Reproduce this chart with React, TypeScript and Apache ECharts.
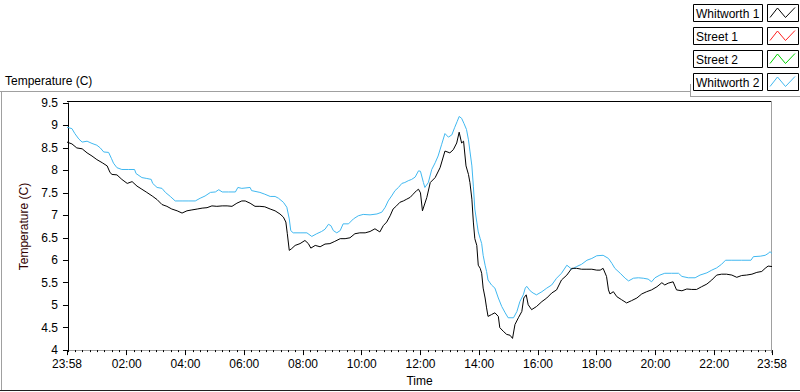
import React, { useEffect, useRef } from "react";
import * as echarts from "echarts";

// minutes since midnight (-2 = 23:58 of previous day)
const w1Minutes = [-2, 8, 18, 29, 39, 49, 59, 70, 80, 86, 90, 100, 110, 121, 131, 141, 151, 161, 172, 182, 192, 202, 212, 223, 233, 243, 253, 264, 274, 284, 294, 304, 315, 325, 335, 345, 355, 362, 372, 382, 392, 402, 413, 423, 433, 440, 445, 448, 452, 457, 464, 474, 484, 491, 496, 505, 515, 525, 535, 545, 556, 566, 576, 586, 596, 607, 617, 627, 637, 644, 651, 658, 664, 671, 678, 685, 692, 699, 705, 712, 716, 720, 724, 733, 740, 750, 760, 770, 780, 787, 794, 799, 804, 808, 813, 818, 821, 825, 828, 831, 835, 838, 842, 845, 848, 852, 855, 858, 865, 872, 879, 882, 889, 896, 903, 908, 913, 920, 927, 931, 936, 940, 947, 957, 968, 978, 988, 998, 1008, 1019, 1029, 1039, 1049, 1060, 1070, 1080, 1087, 1093, 1100, 1104, 1107, 1114, 1121, 1131, 1141, 1151, 1162, 1172, 1182, 1192, 1203, 1213, 1219, 1226, 1236, 1243, 1254, 1264, 1274, 1284, 1294, 1305, 1315, 1325, 1335, 1345, 1356, 1366, 1376, 1386, 1397, 1407, 1417, 1424, 1430, 1438];
const w1Values = [8.63, 8.59, 8.5, 8.48, 8.39, 8.32, 8.24, 8.17, 8.1, 7.95, 7.91, 7.9, 7.8, 7.71, 7.75, 7.65, 7.58, 7.51, 7.43, 7.35, 7.24, 7.2, 7.14, 7.1, 7.05, 7.1, 7.12, 7.14, 7.16, 7.17, 7.21, 7.2, 7.21, 7.21, 7.2, 7.27, 7.32, 7.32, 7.27, 7.2, 7.2, 7.19, 7.14, 7.1, 7.03, 6.96, 6.85, 6.59, 6.22, 6.26, 6.33, 6.37, 6.44, 6.37, 6.27, 6.33, 6.3, 6.36, 6.37, 6.42, 6.48, 6.48, 6.5, 6.59, 6.61, 6.61, 6.64, 6.7, 6.63, 6.77, 6.85, 6.99, 7.14, 7.21, 7.29, 7.32, 7.36, 7.4, 7.47, 7.55, 7.58, 7.5, 7.1, 7.4, 7.73, 7.84, 8.06, 8.43, 8.39, 8.46, 8.61, 8.85, 8.61, 8.65, 8.1, 7.91, 7.73, 7.36, 6.85, 6.48, 6.33, 5.89, 5.82, 5.71, 5.38, 5.16, 4.94, 4.75, 4.79, 4.83, 4.75, 4.5, 4.42, 4.35, 4.33, 4.26, 4.57, 4.72, 4.86, 5.16, 5.23, 5.01, 4.9, 4.97, 5.08, 5.16, 5.27, 5.34, 5.56, 5.67, 5.82, 5.82, 5.8, 5.8, 5.8, 5.78, 5.78, 5.82, 5.64, 5.34, 5.25, 5.3, 5.19, 5.12, 5.05, 5.1, 5.16, 5.25, 5.3, 5.34, 5.41, 5.5, 5.45, 5.49, 5.52, 5.34, 5.32, 5.36, 5.35, 5.35, 5.41, 5.47, 5.56, 5.67, 5.69, 5.69, 5.67, 5.62, 5.66, 5.67, 5.69, 5.73, 5.75, 5.82, 5.87, 5.86];

const w2Minutes = [-2, 8, 14, 22, 29, 39, 49, 59, 66, 73, 83, 89, 93, 100, 110, 124, 136, 139, 151, 161, 170, 173, 182, 192, 199, 209, 219, 233, 247, 260, 270, 280, 291, 301, 308, 315, 328, 342, 347, 355, 372, 375, 392, 402, 413, 423, 430, 440, 447, 452, 455, 460, 474, 488, 498, 508, 518, 525, 532, 537, 542, 549, 556, 562, 573, 583, 593, 603, 617, 631, 641, 648, 654, 661, 668, 675, 682, 688, 695, 702, 709, 716, 720, 726, 729, 736, 743, 750, 756, 763, 770, 777, 784, 790, 795, 799, 804, 809, 814, 818, 821, 825, 828, 831, 835, 838, 842, 845, 848, 852, 855, 858, 865, 872, 879, 886, 893, 899, 910, 917, 923, 930, 934, 937, 944, 950, 957, 968, 978, 988, 998, 1008, 1019, 1029, 1039, 1049, 1060, 1070, 1080, 1093, 1104, 1111, 1117, 1128, 1138, 1145, 1155, 1165, 1175, 1185, 1192, 1199, 1209, 1219, 1233, 1247, 1254, 1267, 1281, 1291, 1305, 1315, 1325, 1335, 1343, 1356, 1376, 1395, 1400, 1414, 1424, 1430, 1434, 1438];
const w2Values = [8.96, 8.93, 8.82, 8.7, 8.63, 8.65, 8.6, 8.56, 8.5, 8.41, 8.4, 8.26, 8.16, 8.06, 8.02, 8.02, 8.02, 7.93, 7.84, 7.82, 7.8, 7.71, 7.62, 7.6, 7.51, 7.42, 7.32, 7.32, 7.32, 7.32, 7.38, 7.43, 7.51, 7.52, 7.57, 7.52, 7.52, 7.52, 7.62, 7.6, 7.62, 7.55, 7.51, 7.47, 7.42, 7.42, 7.38, 7.29, 7.18, 6.92, 6.66, 6.61, 6.61, 6.61, 6.53, 6.59, 6.64, 6.69, 6.8, 6.77, 6.66, 6.61, 6.66, 6.81, 6.81, 6.92, 6.99, 7.02, 7.01, 7.03, 7.07, 7.18, 7.32, 7.43, 7.55, 7.62, 7.71, 7.73, 7.77, 7.8, 7.85, 7.99, 7.98, 7.73, 7.62, 7.73, 8.02, 8.17, 8.32, 8.57, 8.82, 8.74, 8.79, 8.96, 9.09, 9.2, 9.16, 9.04, 8.91, 8.68, 8.43, 8.1, 7.65, 7.14, 6.85, 6.63, 6.48, 6.37, 6.11, 5.89, 5.75, 5.56, 5.45, 5.38, 5.16, 4.97, 4.83, 4.72, 4.72, 4.86, 5.08, 5.23, 5.38, 5.42, 5.32, 5.27, 5.23, 5.3, 5.38, 5.45, 5.6, 5.71, 5.89, 5.8, 5.86, 5.91, 6.0, 6.04, 6.1, 6.11, 6.04, 5.93, 5.82, 5.71, 5.6, 5.54, 5.6, 5.61, 5.6, 5.58, 5.52, 5.61, 5.67, 5.71, 5.71, 5.71, 5.64, 5.61, 5.61, 5.67, 5.72, 5.78, 5.83, 5.91, 6.0, 6.0, 6.0, 6.0, 6.08, 6.09, 6.11, 6.15, 6.19, 6.15];

const street1Minutes: number[] = [];
const street1Values: number[] = [];
const street2Minutes: number[] = [];
const street2Values: number[] = [];

const seriesNames = ["Whitworth 1", "Street 1", "Street 2", "Whitworth 2"];
const seriesColors = ["#000000", "#ff2020", "#00d000", "#40b8f0"];

const xLabelMinutes = [-2, 120, 240, 360, 480, 600, 720, 840, 960, 1080, 1200, 1320, 1438];
const minorTickStep = 15;
const xMin = -2;
const xMax = 1438;
const yMin = 4;
const yMax = 9.5;
const yStep = 0.5;

const FONT = "Liberation Sans";

function pairs(xs: number[], ys: number[]) {
  return xs.map((x, i) => [x, ys[i]]);
}

function fmtTime(m: number) {
  let v = Math.round(m);
  if (v < 0) v += 1440;
  v = v % 1440;
  const h = Math.floor(v / 60);
  const mm = v % 60;
  return String(h).padStart(2, "0") + ":" + String(mm).padStart(2, "0");
}

export default function App() {
  const ref = useRef<HTMLDivElement>(null);
  useEffect(() => {
    if (!ref.current) return;
    const chart = echarts.init(ref.current, null, { renderer: "svg" });
    const minorTicks: number[] = [];
    for (let m = 0; m < xMax; m += minorTickStep) minorTicks.push(m);

    const legendGraphics: any[] = [];
    seriesNames.forEach((name, i) => {
      const y0 = 4.5 + 23 * i;
      legendGraphics.push({
        type: "rect",
        shape: { x: 693.5, y: y0, width: 69, height: 17 },
        style: { fill: "#fff", stroke: "#000", lineWidth: 1 },
        silent: true,
      });
      legendGraphics.push({
        type: "text",
        x: 696,
        y: y0 + 9,
        style: { text: name, fill: "#000", font: `12px "${FONT}"`, verticalAlign: "middle", align: "left" },
        silent: true,
      });
      legendGraphics.push({
        type: "rect",
        shape: { x: 767.5, y: y0, width: 31, height: 17 },
        style: { fill: "#fff", stroke: "#000", lineWidth: 1 },
        silent: true,
      });
      legendGraphics.push({
        type: "polyline",
        shape: { points: [[770, y0 + 13], [777.5, y0 + 3.5], [785.5, y0 + 13], [795, y0 + 3]] },
        style: { stroke: seriesColors[i], lineWidth: 1, fill: "none" },
        silent: true,
      });
    });

    const line = (x1: number, y1: number, x2: number, y2: number, color: string) => ({
      type: "line",
      shape: { x1, y1, x2, y2 },
      style: { stroke: color, lineWidth: 1 },
      silent: true,
    });

    chart.setOption({
      animation: false,
      backgroundColor: "#ffffff",
      textStyle: { fontFamily: FONT },
      grid: { left: 67, top: 103, width: 705, height: 249.5, containLabel: false },
      xAxis: [
        {
          type: "value",
          min: xMin,
          max: xMax,
          position: "bottom",
          name: "Time",
          nameLocation: "middle",
          nameGap: 23,
          nameTextStyle: { color: "#000", fontSize: 12, fontFamily: FONT },
          axisLine: { show: true, lineStyle: { color: "#a0a0a0", width: 1 } },
          axisTick: { show: true, customValues: xLabelMinutes, length: 5, lineStyle: { color: "#000", width: 1 } },
          axisLabel: {
            show: true,
            customValues: xLabelMinutes,
            formatter: (v: number) => fmtTime(v),
            margin: 8,
            color: "#000",
            fontSize: 12,
            fontFamily: FONT,
            hideOverlap: false,
          },
          splitLine: { show: false },
        },
        {
          type: "value",
          min: xMin,
          max: xMax,
          position: "bottom",
          axisLine: { show: false },
          axisTick: { show: true, customValues: minorTicks, length: 2, lineStyle: { color: "#000", width: 1 } },
          axisLabel: { show: false },
          splitLine: { show: false },
        },
      ],
      yAxis: {
        type: "value",
        min: yMin,
        max: yMax,
        interval: yStep,
        name: "Temperature (C)",
        nameLocation: "middle",
        nameRotate: 90,
        nameGap: 28,
        nameTextStyle: { color: "#300000", fontSize: 12, fontFamily: FONT },
        axisLine: { show: true, lineStyle: { color: "#000", width: 1 } },
        axisTick: { show: true, length: 5, lineStyle: { color: "#000", width: 1 } },
        axisLabel: { margin: 9, color: "#000", fontSize: 12, fontFamily: FONT },
        splitLine: { show: false },
      },
      series: [
        {
          name: seriesNames[0],
          type: "line",
          data: pairs(w1Minutes, w1Values),
          showSymbol: false,
          lineStyle: { color: seriesColors[0], width: 1 },
          itemStyle: { color: seriesColors[0] },
          z: 3,
        },
        {
          name: seriesNames[1],
          type: "line",
          data: pairs(street1Minutes, street1Values),
          showSymbol: false,
          lineStyle: { color: seriesColors[1], width: 1 },
        },
        {
          name: seriesNames[2],
          type: "line",
          data: pairs(street2Minutes, street2Values),
          showSymbol: false,
          lineStyle: { color: seriesColors[2], width: 1 },
        },
        {
          name: seriesNames[3],
          type: "line",
          data: pairs(w2Minutes, w2Values),
          showSymbol: false,
          lineStyle: { color: seriesColors[3], width: 1 },
          itemStyle: { color: seriesColors[3] },
          z: 2,
        },
      ],
      graphic: [
        {
          type: "text",
          x: 5,
          y: 81,
          style: { text: "Temperature (C)", fill: "#000", font: `12px "${FONT}"`, verticalAlign: "middle" },
          silent: true,
        },
        line(0, 91.5, 690, 91.5, "#a0a0a0"),
        line(690.5, 84, 690.5, 97, "#a0a0a0"),
        line(690, 96.5, 800, 96.5, "#a0a0a0"),
        line(1.5, 91.5, 1.5, 391, "#a0a0a0"),
        line(0, 390.5, 800, 390.5, "#202020"),
        line(67, 101.5, 772, 101.5, "#000"),
        line(771.5, 101, 771.5, 353, "#a0a0a0"),
        ...legendGraphics,
      ],
    });
    return () => chart.dispose();
  }, []);
  return <div ref={ref} style={{ position: "absolute", left: 0, top: 0, width: 800, height: 392 }} />;
}
